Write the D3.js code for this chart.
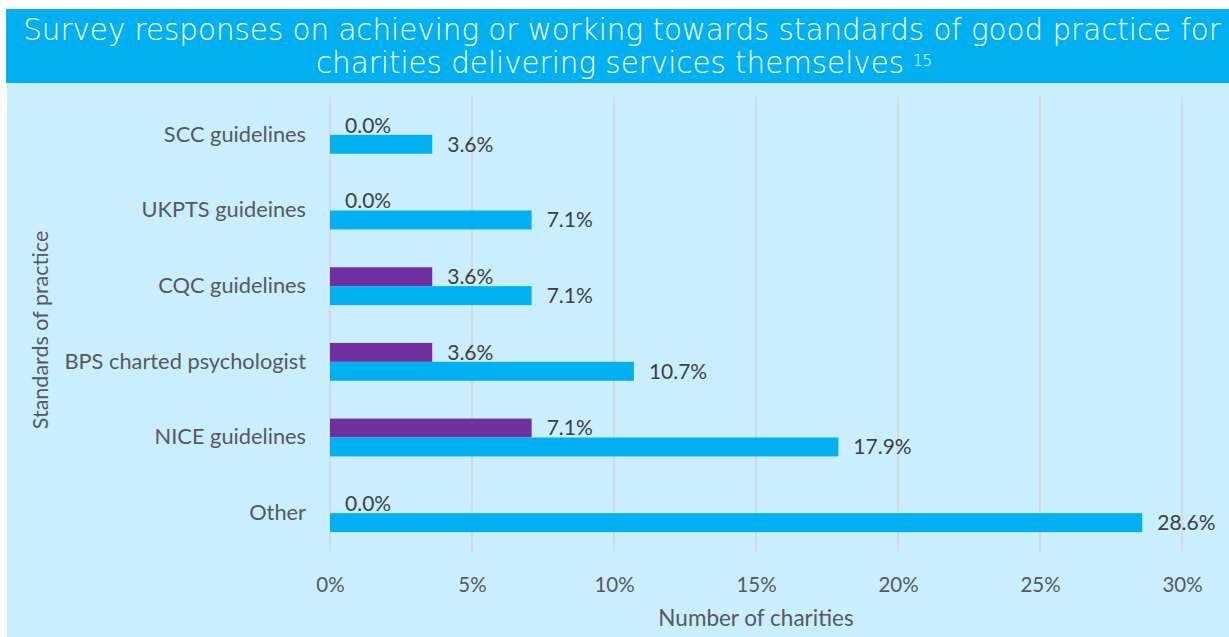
<!DOCTYPE html>
<html><head><meta charset="utf-8">
<script src="https://cdn.jsdelivr.net/npm/d3@7"></script>
<style>
html,body{margin:0;padding:0;background:#fff;}
svg{display:block;}
</style></head>
<body>
<svg id="chart" width="1229" height="637"></svg>
<script>
const categories = ["SCC guidelines","UKPTS guideines","CQC guidelines","BPS charted psychologist","NICE guidelines","Other"];
const achievedValues = [0.0, 0.0, 3.6, 3.6, 7.1, 0.0];
const workingValues = [3.6, 7.1, 7.1, 10.7, 17.9, 28.6];
const xTicks = [0,5,10,15,20,25,30];
const titleLines = ["Survey responses on achieving or working towards standards of good practice for","charities delivering services themselves"];
const footnote = "15";

const svg = d3.select("#chart");
const W = 1229, H = 637;
const font = "Lato, 'Open Sans', sans-serif";
const titleFont = "'DejaVu Sans', sans-serif";

// Title band and panel
svg.append("rect").attr("x",6).attr("y",9).attr("width",W-6).attr("height",74).attr("fill","#00B0F0");
svg.append("rect").attr("x",7).attr("y",83).attr("width",W-7).attr("height",H-83).attr("fill","#C8EEFF");

const t1 = svg.append("text").attr("x",622).attr("y",40).attr("text-anchor","middle").attr("fill","#fff")
  .style("font-family",titleFont).style("font-weight","200").style("font-size","25px").text(titleLines[0]);
const t2 = svg.append("text").attr("x",610).attr("y",73).attr("text-anchor","middle").attr("fill","#fff")
  .style("font-family",titleFont).style("font-weight","200").style("font-size","25px").text(titleLines[1]);
// fit line 1 width to reference
const w1 = t1.node().getComputedTextLength();
const target = 1198;
const fs = 25*target/w1;
t1.style("font-size",fs+"px");
t2.style("font-size",fs+"px");
const w2 = t2.node().getComputedTextLength();
const fn = svg.append("text").attr("x",610 + w2/2 + 9).attr("y",66).attr("fill","#fff")
  .style("font-family",titleFont).style("font-weight","200").style("font-size","15px").text(footnote);

const m = {left:330, right:1182, top:97, bottom:551};
const x = d3.scaleLinear().domain([0,30]).range([m.left,m.right]);
const y = d3.scaleBand().domain(categories).range([m.top,m.bottom]).paddingInner(0.5).paddingOuter(0.25);
const half = y.bandwidth()/2;

// gridlines
svg.append("g").selectAll("line").data(xTicks).join("line")
  .attr("x1",d=>x(d)).attr("x2",d=>x(d)).attr("y1",m.top).attr("y2",m.bottom)
  .attr("stroke","#D9D9D9").attr("stroke-width",2);

// x axis labels
const xAxis = d3.axisBottom(x).tickValues(xTicks).tickFormat(d=>d+"%").tickSize(0).tickPadding(0);
const xg = svg.append("g").attr("transform",`translate(0,${m.bottom})`).call(xAxis);
xg.select(".domain").remove();
xg.selectAll("text").attr("y",41).attr("dy",0).attr("fill","#595959")
  .style("font-family",font).style("font-size","20.5px");

// y axis labels
const yAxis = d3.axisLeft(y).tickSize(0).tickPadding(0);
const yg = svg.append("g").attr("transform",`translate(${m.left},0)`).call(yAxis);
yg.select(".domain").remove();
yg.selectAll("text").attr("x",-24).attr("dy","0.32em").attr("fill","#595959")
  .style("font-family",font).style("font-size","21.8px");

// bars
const rows = categories.map((c,i)=>({c, a:achievedValues[i], w:workingValues[i]}));
const bg = svg.append("g");
bg.selectAll("rect.a").data(rows).join("rect").attr("class","a")
  .attr("x",x(0)).attr("y",d=>y(d.c)).attr("width",d=>x(d.a)-x(0)).attr("height",half)
  .attr("fill","#7030A0");
bg.selectAll("rect.w").data(rows).join("rect").attr("class","w")
  .attr("x",x(0)).attr("y",d=>y(d.c)+half).attr("width",d=>x(d.w)-x(0)).attr("height",half)
  .attr("fill","#00B0F0");

// value labels
const lg = svg.append("g").style("font-family",font).style("font-size","21px").attr("fill","#404040");
lg.selectAll("text.a").data(rows).join("text").attr("class","a")
  .attr("x",d=>x(d.a)+15).attr("y",d=>y(d.c)+half/2).attr("dy","0.35em")
  .text(d=>d.a.toFixed(1)+"%");
lg.selectAll("text.w").data(rows).join("text").attr("class","w")
  .attr("x",d=>x(d.w)+15).attr("y",d=>y(d.c)+half*1.5).attr("dy","0.35em")
  .text(d=>d.w.toFixed(1)+"%");

// axis titles
svg.append("text").attr("x",(m.left+m.right)/2).attr("y",626).attr("text-anchor","middle")
  .attr("fill","#595959").style("font-family",font).style("font-size","22.5px").text("Number of charities");
svg.append("text").attr("transform",`translate(48,${(m.top+m.bottom)/2+6}) rotate(-90)`).attr("text-anchor","middle")
  .attr("fill","#595959").style("font-family",font).style("font-size","21.5px").text("Standards of practice");
</script>
</body></html>
